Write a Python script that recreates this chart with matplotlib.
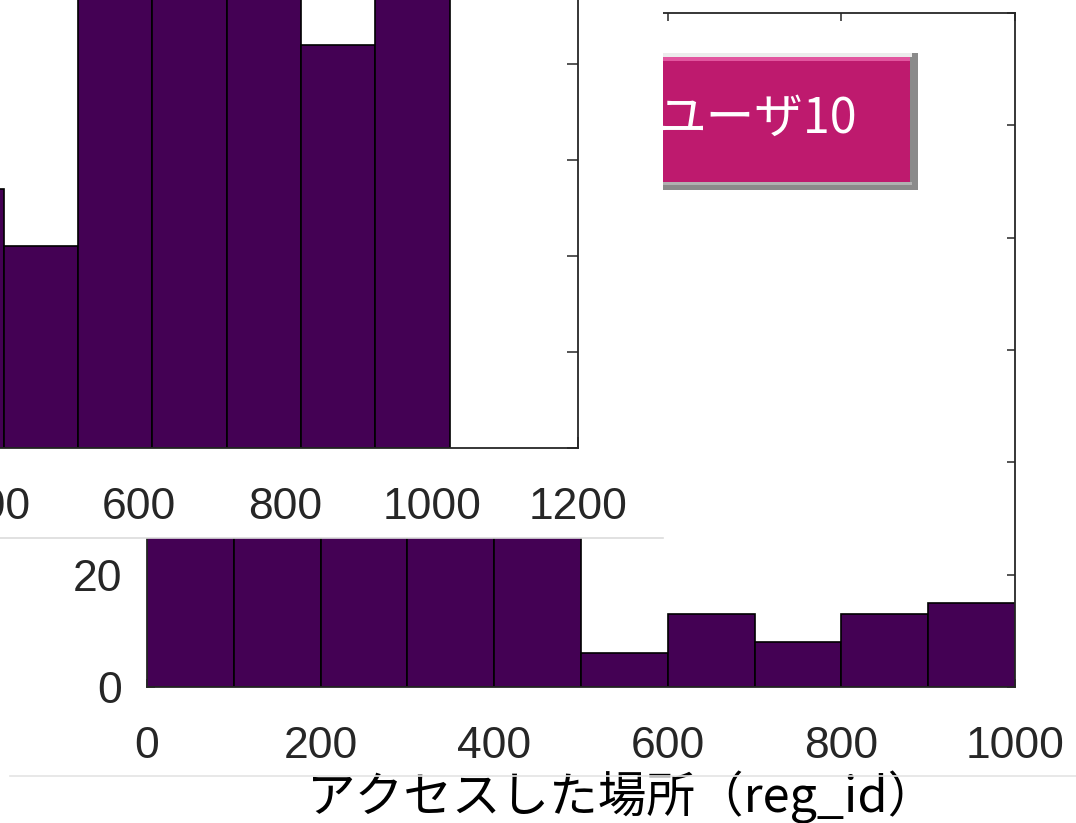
import numpy as np
import matplotlib
matplotlib.use('Agg')
import matplotlib.pyplot as plt
from matplotlib.patches import Rectangle
from matplotlib.lines import Line2D

# back chart: histogram of reg_id, bins of 100 (first five bins are hidden under the inset)
back_edges = [0, 100, 200, 300, 400, 500, 600, 700, 800, 900, 1000]
back_counts = [70, 95, 110, 85, 60, 6, 13, 8, 13, 15]
back_xticks = [0, 200, 400, 600, 800, 1000]
back_yticks = [0, 20, 40, 60, 80, 100, 120]

# inset chart (pasted on top-left), only part of it is visible
front_edges = [314, 415, 516, 618, 720, 821, 923, 1025]
front_counts = [27, 21, 55, 58, 52, 42, 56]
front_xticks = [400, 600, 800, 1000, 1200]
front_yticks = [0, 10, 20, 30, 40, 50, 60]

legend_label = 'ユーザ10'
xlabel = 'アクセスした場所（reg_id）'

BAR = '#440154'
INK = '#262626'
PINK = '#be1a6e'
JP = ['Noto Sans CJK JP', 'DejaVu Sans']
NUM = ['Liberation Sans', 'DejaVu Sans']

W, H = 1076, 823
fig = plt.figure(figsize=(W / 100, H / 100), dpi=100)


def box(x0, y0, x1, y1):
    # pixel box (top-left origin) -> figure fraction [l, b, w, h]
    return [x0 / W, 1 - y1 / H, (x1 - x0) / W, (y1 - y0) / H]


def style(ax, pad):
    ax.set_axisbelow(True)
    for s in ax.spines.values():
        s.set_color(INK)
        s.set_linewidth(1.3)
    ax.tick_params(direction='in', length=6, width=1.1, top=True, right=True,
                   colors=INK, labelsize=32, pad=pad)
    for lab in ax.get_xticklabels() + ax.get_yticklabels():
        lab.set_family(NUM)


# ---- back axes
ax = fig.add_axes(box(147, 13, 1015, 687))
ax.bar(back_edges[:-1], back_counts, width=np.diff(back_edges), align='edge',
       color=BAR, edgecolor='black', linewidth=1.2)
ax.set_xlim(0, 1000)
ax.set_ylim(0, 120)
ax.set_xticks(back_xticks)
ax.set_yticks(back_yticks)
style(ax, 28)
ax.tick_params(axis='y', pad=18)
ax.set_xlabel(xlabel, family=JP, fontsize=35, color='black')
ax.xaxis.set_label_coords((622 - 147) / 868, (687 - 797) / 674)
ax.xaxis.label.set_va('center')

# ---- legend-like button (partly hidden behind the inset)
def prect(x0, y0, x1, y1, color, z):
    l, b, w, h = box(x0, y0, x1, y1)
    fig.add_artist(Rectangle((l, b), w, h, transform=fig.transFigure,
                             facecolor=color, edgecolor='none', zorder=z))

prect(600, 53, 918, 190, '#8a8a8a', 0.5)
prect(600, 53, 912, 57, '#ececec', 0.51)
prect(600, 57, 910, 61, '#e2559f', 0.52)
prect(600, 61, 910, 182, PINK, 0.53)
prect(600, 182, 912, 185, '#b0b0b0', 0.52)
fig.text(657 / W, 1 - 119 / H, legend_label, family=JP, fontsize=35,
         color='white', va='center', ha='left', zorder=0.6)

# ---- white backdrop of the pasted inset
l, b, w, h = box(0, 0, 663, 538)
fig.add_artist(Rectangle((l, b), w, h, transform=fig.transFigure,
                         facecolor='white', edgecolor='none', zorder=1.5))
fig.add_artist(Line2D([0, 663 / W], [1 - 538 / H] * 2, transform=fig.transFigure,
                      color='#dcdcdc', lw=1.2, zorder=1.6))
fig.add_artist(Line2D([10 / W, 1], [1 - 776 / H] * 2, transform=fig.transFigure,
                      color='#e4e4e4', lw=1.2, zorder=1.6))

# ---- inset axes
ax2 = fig.add_axes(box(-300, -128, 578, 448))
ax2.set_zorder(2)
ax2.bar(front_edges[:-1], front_counts, width=np.diff(front_edges), align='edge',
        color=BAR, edgecolor='black', linewidth=1.2)
ax2.set_xlim(0, 1200)
ax2.set_ylim(0, 60)
ax2.set_xticks(front_xticks)
ax2.set_yticks(front_yticks)
style(ax2, 28)
ax2.tick_params(length=8, labelleft=False)

fig.savefig('out.png', dpi=100)
